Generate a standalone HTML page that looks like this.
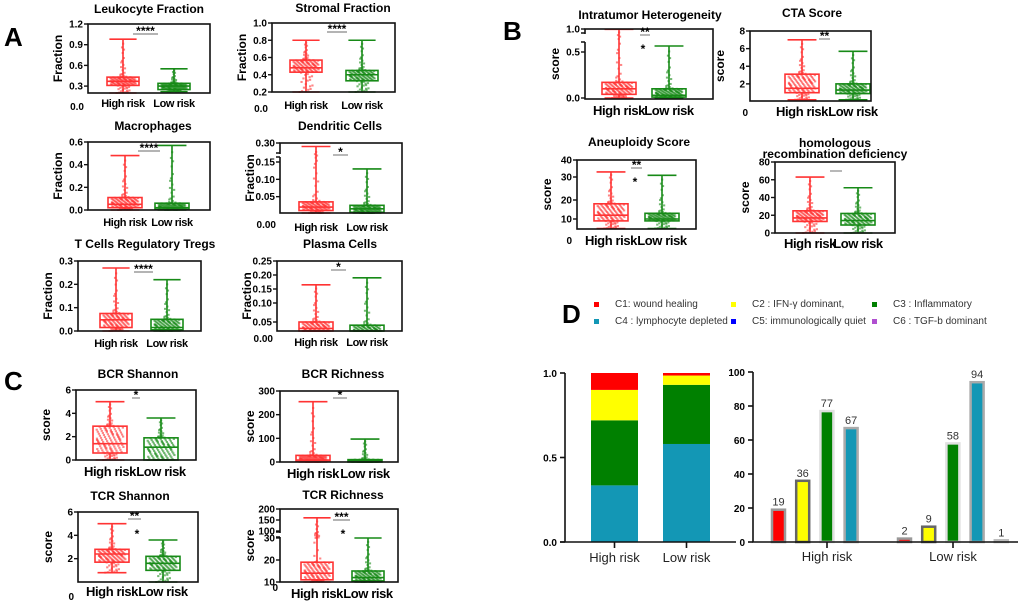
<!DOCTYPE html>
<html><head><meta charset="utf-8"><style>
body{margin:0;background:#fff;}
svg{display:block;font-family:"Liberation Sans",Arial,sans-serif;}
.t{font-weight:bold;font-size:12px;text-anchor:middle}
.tk{font-weight:bold;font-size:10px;text-anchor:end}
.xl{font-weight:bold;text-anchor:middle;letter-spacing:-0.4px}
.lg{font-size:10px;fill:#333}
</style></head><body>
<svg id="fig" width="1020" height="603" viewBox="0 0 1020 603">
<text x="4" y="46" font-size="26" font-weight="bold">A</text>
<text x="503" y="40" font-size="26" font-weight="bold">B</text>
<text x="4" y="390" font-size="26" font-weight="bold">C</text>
<text x="562" y="323" font-size="26" font-weight="bold">D</text>
</svg>
<script>
// box stats: [min, q1, median, q3, max]
const leukHigh=[0.2,0.31,0.37,0.43,0.98], leukLow=[0.22,0.25,0.30,0.34,0.55];
const stromHigh=[0.2,0.43,0.48,0.57,0.8], stromLow=[0.2,0.33,0.40,0.45,0.8];
const macroHigh=[0,0.02,0.05,0.11,0.48], macroLow=[0,0.005,0.02,0.06,0.57];
const dendHigh=[0,0.01,0.02,0.035,0.29], dendLow=[0,0.005,0.015,0.025,0.13];
const tregHigh=[0,0.015,0.048,0.075,0.27], tregLow=[0,0.005,0.015,0.05,0.22];
const plasHigh=[0,0.015,0.03,0.05,0.165], plasLow=[0,0.01,0.02,0.04,0.19];
const bcrShHigh=[0,0.6,1.4,2.9,5], bcrShLow=[0,0,1.1,1.9,3.6];
const bcrRiHigh=[0,2,8,28,255], bcrRiLow=[0,0,5,10,97];
const tcrShHigh=[0.8,1.7,2.4,2.8,5], tcrShLow=[0,1.0,1.6,2.2,3.6];
const tcrRiHigh=[10,11,14,19,160], tcrRiLow=[10,10.5,12,15,30];
const ithHigh=[0,0.04,0.1,0.17,0.99], ithLow=[0,0.01,0.03,0.1,0.56];
const ctaHigh=[0.2,1.0,1.5,3.1,7.0], ctaLow=[0.2,0.9,1.3,2.0,5.7];
const aneuHigh=[5,9,12,18,33], aneuLow=[5,9,10,13,31];
const hrdHigh=[0,13,17,25,63], hrdLow=[0,9,14,22,51];
const groups=['High risk','Low risk'];
const subtypes=['C1: wound healing','C2 : IFN-γ dominant,','C3 : Inflammatory','C4 : lymphocyte depleted','C5:  immunologically quiet','C6 : TGF-b dominant'];
const stackHigh=[0.10,0.18,0.385,0.335];
const stackLow=[0.015,0.055,0.35,0.58];
const countHigh=[19,36,77,67,0];
const countLow=[2,9,58,94,1];
const stackTicks=[0,0.5,1.0];
const countTicks=[0,20,40,60,80,100];

const svg=document.getElementById('fig');
const NS='http://www.w3.org/2000/svg';
function el(tag,attrs,parent){const e=document.createElementNS(NS,tag);for(const k in attrs)e.setAttribute(k,attrs[k]);(parent||svg).appendChild(e);return e;}
function txt(x,y,s,cls,extra,parent){const e=el('text',Object.assign({x:x,y:y,class:cls||''},extra||{}),parent);e.textContent=s;return e;}

const plots=[
{n:'leukocyte',title:'Leukocyte Fraction',tx:149,ty:13,x0:88,x1:210,y0:24,y1:93,map:[[0.2,93],[1.2,24]],ticks:[[0.3,'0.3'],[0.6,'0.6'],[0.9,'0.9'],[1.2,'1.2']],extra:[84,110,'0.0'],yt:'Fraction',cx:[123,174],hw:16,h:leukHigh,l:leukLow,sig:[133,158,34,'****'],xl:107,xf:11},
{n:'stromal',title:'Stromal Fraction',tx:343,ty:12,x0:272,x1:395,y0:23,y1:92,map:[[0.2,92],[1.0,23]],ticks:[[0.2,'0.2'],[0.4,'0.4'],[0.6,'0.6'],[0.8,'0.8'],[1.0,'1.0']],extra:[268,112,'0.0'],yt:'Fraction',cx:[306,362],hw:16,h:stromHigh,l:stromLow,sig:[327,347,32,'****'],xl:109,xf:11},
{n:'macrophages',title:'Macrophages',tx:153,ty:130,x0:88,x1:210,y0:142,y1:210,map:[[0,210],[0.6,142]],ticks:[[0,'0.0'],[0.2,'0.2'],[0.4,'0.4'],[0.6,'0.6']],yt:'Fraction',cx:[125,172],hw:17,h:macroHigh,l:macroLow,sig:[138,160,151,'****'],xl:226,xf:11},
{n:'dendritic',title:'Dendritic Cells',tx:340,ty:130,x0:280,x1:402,y0:143,y1:213,map:[[0,214],[0.15,162],[0.28,150],[0.30,143]],ticks:[[0.05,'0.05'],[0.10,'0.10'],[0.15,'0.15'],[0.30,'0.30']],brk:[153,157],extra:[276,228,'0.00'],yt:'Fraction',cx:[316,367],hw:17,h:dendHigh,l:dendLow,sig:[333,348,155,'*'],xl:231,xf:11},
{n:'tregs',title:'T Cells Regulatory Tregs',tx:145,ty:248,x0:78,x1:201,y0:261,y1:331,map:[[0,331],[0.3,261]],ticks:[[0,'0.0'],[0.1,'0.1'],[0.2,'0.2'],[0.3,'0.3']],yt:'Fraction',cx:[116,167],hw:16,h:tregHigh,l:tregLow,sig:[134,153,272,'****'],xl:347,xf:11},
{n:'plasma',title:'Plasma Cells',tx:340,ty:248,x0:277,x1:402,y0:261,y1:331,map:[[0,338],[0.05,322],[0.10,303],[0.25,261]],ticks:[[0.05,'0.05'],[0.10,'0.10'],[0.15,'0.15'],[0.20,'0.20'],[0.25,'0.25']],extra:[273,342,'0.00'],yt:'Fraction',cx:[316,367],hw:17,h:plasHigh,l:plasLow,sig:[331,346,270,'*'],xl:346,xf:11},
{n:'bcr-shannon',title:'BCR Shannon',tx:138,ty:378,x0:76,x1:196,y0:390,y1:460,map:[[0,460],[6,390]],ticks:[[0,'0'],[2,'2'],[4,'4'],[6,'6']],yt:'score',cx:[110,161],hw:17,h:bcrShHigh,l:bcrShLow,sig:[132,140,398,'*'],xl:476,xf:13},
{n:'bcr-richness',title:'BCR Richness',tx:343,ty:378,x0:280,x1:398,y0:391,y1:462,map:[[0,462],[300,391]],ticks:[[0,'0'],[100,'100'],[200,'200'],[300,'300']],yt:'score',cx:[313,365],hw:17,h:bcrRiHigh,l:bcrRiLow,sig:[333,347,398,'*'],xl:478,xf:13},
{n:'tcr-shannon',title:'TCR Shannon',tx:130,ty:500,x0:78,x1:198,y0:512,y1:582,map:[[0,582],[6,512]],ticks:[[2,'2'],[4,'4'],[6,'6']],extra:[74,600,'0'],yt:'score',cx:[112,163],hw:17,h:tcrShHigh,l:tcrShLow,sig:[128,141,519,'**'],sig2:[137,538,'*'],xl:596,xf:13},
{n:'tcr-richness',title:'TCR Richness',tx:343,ty:499,x0:280,x1:398,y0:509,y1:582,map:[[10,582],[30,538],[100,531],[200,509]],ticks:[[10,'10'],[20,'20'],[30,'30'],[100,'100'],[150,'150'],[200,'200']],brk:[532,537],extra:[278,591,'0'],yt:'score',cx:[317,368],hw:16,h:tcrRiHigh,l:tcrRiLow,sig:[333,350,520,'***'],sig2:[343,538,'*'],xl:598,xf:13},
{n:'intratumor-heterogeneity',title:'Intratumor Heterogeneity',tx:650,ty:19,x0:585,x1:713,y0:29,y1:99,map:[[0,98],[0.5,52],[0.6,42],[1.0,29]],ticks:[[0,'0.0'],[0.5,'0.5'],[1.0,'1.0']],brk:[33,42],yt:'score',cx:[619,669],hw:17,h:ithHigh,l:ithLow,sig:[640,650,35,'**'],sig2:[643,53,'*'],xl:115,xf:13},
{n:'cta-score',title:'CTA Score',tx:812,ty:17,x0:750,x1:871,y0:31,y1:101,map:[[0,101.5],[8,31]],ticks:[[2,'2'],[4,'4'],[6,'6'],[8,'8']],extra:[748,116,'0'],yt:'score',cx:[802,853],hw:17,h:ctaHigh,l:ctaLow,sig:[819,830,39,'**'],xl:116,xf:13},
{n:'aneuploidy-score',title:'Aneuploidy Score',tx:639,ty:146,x0:577,x1:696,y0:160,y1:229,map:[[0,238],[10,219],[20,200],[30,177],[40,160]],ticks:[[10,'10'],[20,'20'],[30,'30'],[40,'40']],extra:[572,244,'0'],yt:'score',cx:[611,662],hw:17,h:aneuHigh,l:aneuLow,sig:[631,642,168,'**'],sig2:[635,186,'*'],xl:245,xf:13},
{n:'hrd',title:'homologous',title2:'recombination  deficiency',tx:835,ty:147,x0:775,x1:895,y0:162,y1:233,map:[[0,233],[80,162]],ticks:[[0,'0'],[20,'20'],[40,'40'],[60,'60'],[80,'80']],yt:'score',cx:[810,858],hw:17,h:hrdHigh,l:hrdLow,sig:[830,842,171,''],xl:248,xf:13}
];
const RED='#ff3333',GRN='#178a17';

function mapper(m,y0,y1){return v=>{let y;if(v<=m[0][0])y=m[0][1];else if(v>=m[m.length-1][0])y=m[m.length-1][1];else{for(let i=0;i<m.length-1;i++){if(v>=m[i][0]&&v<=m[i+1][0]){const t=(v-m[i][0])/(m[i+1][0]-m[i][0]);y=m[i][1]+t*(m[i+1][1]-m[i][1]);break;}}}return Math.max(y0,Math.min(y1,y));};}
// deterministic quantile placement: most points inside the box, a thin tail toward whiskers
function quantPos(s,u){
  if(u<0.12){const t=u/0.12;return [s[0]+t*(s[1]-s[0]),0.5];}
  if(u<0.85){const t=(u-0.12)/0.73;return [s[1]+t*(s[3]-s[1]),1];}
  const t=(u-0.85)/0.15;return [s[3]+t*t*(s[4]-s[3]),0.25*(1-t)+0.06];
}

plots.forEach(p=>{
  const g=el('g',{});
  
  
  const Y=mapper(p.map,p.y0,p.y1);
  const t=txt(p.tx,p.ty,p.title,'t',{},g);
  
  if(p.title2){const t2=txt(p.tx,p.ty+11,p.title2,'t',{},g);}
  [[p.h,RED,p.cx[0]],[p.l,GRN,p.cx[1]]].forEach(([s,c,cx],gi)=>{
    const n=130;
    for(let i=0;i<n;i++){
      const u=((i*0.618034)%1)*0.999;
      const [v,wf]=quantPos(s,u);
      const jx=(((i*0.754877)%1)-0.5)*2*p.hw*0.8*wf;
      const d=el('rect',{x:cx+jx-1,y:Y(v)-1,width:2.2,height:2,fill:c,opacity:0.6},g);
      
    }
    const cap=p.hw*0.85;
    const w=el('path',{d:`M${cx},${Y(s[4])}V${Y(s[3])}M${cx},${Y(s[1])}V${Y(s[0])}M${cx-cap},${Y(s[4])}H${cx+cap}M${cx-cap},${Y(s[0])}H${cx+cap}`,stroke:c,'stroke-width':1.6,fill:'none'},g);
    
    const b=el('rect',{x:cx-p.hw,y:Y(s[3]),width:2*p.hw,height:Math.max(1,Y(s[1])-Y(s[3])),fill:'none',stroke:c,'stroke-width':1.6},g);
    
    const md=el('line',{x1:cx-p.hw,x2:cx+p.hw,y1:Y(s[2]),y2:Y(s[2]),stroke:c,'stroke-width':1.6},g);
    
    const xl=txt(cx,p.xl,groups[gi],'xl',{'font-size':p.xf},g);
    
  });
  const fr=el('rect',{x:p.x0,y:p.y0,width:p.x1-p.x0,height:p.y1-p.y0,fill:'none',stroke:'#111','stroke-width':1.6},g);
  
  if(p.brk){el('rect',{x:p.x0-3,y:p.brk[0]+1,width:5,height:p.brk[1]-p.brk[0]-1,fill:'#fff'},g);
    el('path',{d:`M${p.x0-4},${p.brk[0]}H${p.x0}M${p.x0-4},${p.brk[1]}H${p.x0}`,stroke:'#111','stroke-width':1.6},g);}
  p.ticks.forEach(([v,l])=>{
    const y=mapper(p.map,-1e9,1e9)(v);
    el('line',{x1:p.x0-4,x2:p.x0,y1:y,y2:y,stroke:'#111','stroke-width':1.4},g);
    const tl=txt(p.x0-5,y+3.5,l,'tk',{},g);
    
  });
  if(p.extra){const e=txt(p.extra[0],p.extra[1],p.extra[2],'tk',{},g);}
  const yc=(p.y0+p.y1)/2, yx=p.x0-26;
  const yt=txt(yx,yc,p.yt,'t',{transform:`rotate(-90 ${yx} ${yc})`,'font-size':13},g);
  
  const sl=el('line',{x1:p.sig[0],x2:p.sig[1],y1:p.sig[2],y2:p.sig[2],stroke:'#888','stroke-width':1.2},g);
  
  if(p.sig[3]){const st=txt((p.sig[0]+p.sig[1])/2,p.sig[2]+1,p.sig[3],'t',{'font-size':10},g);}
  if(p.sig2){const s2=txt(p.sig2[0],p.sig2[1],p.sig2[2],'t',{'font-size':10},g);}
});

// Panel D
const colors=['#ff0000','#ffff00','#008000','#1397b5','#0000ff','#b04fd0'];
const lgX=[[596,615],[733,752],[874,893]];
subtypes.forEach((s,i)=>{
  const r=Math.floor(i/3),c=i%3;const y=[307,324][r];
  const sq=el('rect',{x:lgX[c][0]-2,y:y-5,width:5,height:5,fill:colors[i]});
  
  const lt=txt(lgX[c][1],y,s,'lg');
  
});
const sY=v=>542-v*169;
const stackX=[591,663],sW=47;
[stackHigh,stackLow].forEach((arr,gi)=>{
  let cum=0;
  for(let k=arr.length-1;k>=0;k--){
    const r=el('rect',{x:stackX[gi],y:sY(cum+arr[k]),width:sW,height:sY(cum)-sY(cum+arr[k]),fill:colors[k]});
    
    cum+=arr[k];
  }
  el('line',{x1:stackX[gi]+sW/2,x2:stackX[gi]+sW/2,y1:542,y2:548,stroke:'#111','stroke-width':1.6});
  const l=txt(stackX[gi]+sW/2,562,groups[gi],'',{'font-size':13,'text-anchor':'middle',fill:'#222'});
  
});
const sa=el('path',{d:'M565,373V542M560,542H736',stroke:'#111','stroke-width':1.6,fill:'none'});

stackTicks.forEach(v=>{el('line',{x1:560,x2:565,y1:sY(v),y2:sY(v),stroke:'#111','stroke-width':1.6});
  const t=txt(557,sY(v)+4,v.toFixed(1),'tk',{'font-size':12});});
const cY=v=>542-v*1.7;
const groupStart=[772,898],step=24.2,bw=13;
const borders=['#999','#666','#e0e0e0','#aaa','#bbb'];
[countHigh,countLow].forEach((arr,gi)=>{
  arr.forEach((v,k)=>{
    if(v<=0)return;
    const x=groupStart[gi]+k*step;
    const r=el('rect',{x:x,y:cY(v),width:bw,height:542-cY(v),fill:k===4?'#c8b830':colors[k],stroke:borders[k],'stroke-width':2.5});
    
    const l=txt(x+bw/2,cY(v)-4,String(v),'',{'font-size':11,'text-anchor':'middle',fill:'#333'});
    
  });
  const cx=[827,953][gi];
  el('line',{x1:cx,x2:cx,y1:542,y2:548,stroke:'#111','stroke-width':1.6});
  const l=txt(cx,561,groups[gi],'',{'font-size':13,'text-anchor':'middle',fill:'#222'});
  
});
const ca=el('path',{d:'M753,372V542H1018',stroke:'#111','stroke-width':1.6,fill:'none'});

countTicks.forEach(v=>{el('line',{x1:748,x2:753,y1:cY(v),y2:cY(v),stroke:'#111','stroke-width':1.6});
  const t=txt(745,cY(v)+4,String(v),'tk',{'font-size':12});});
</script>
</body></html>
